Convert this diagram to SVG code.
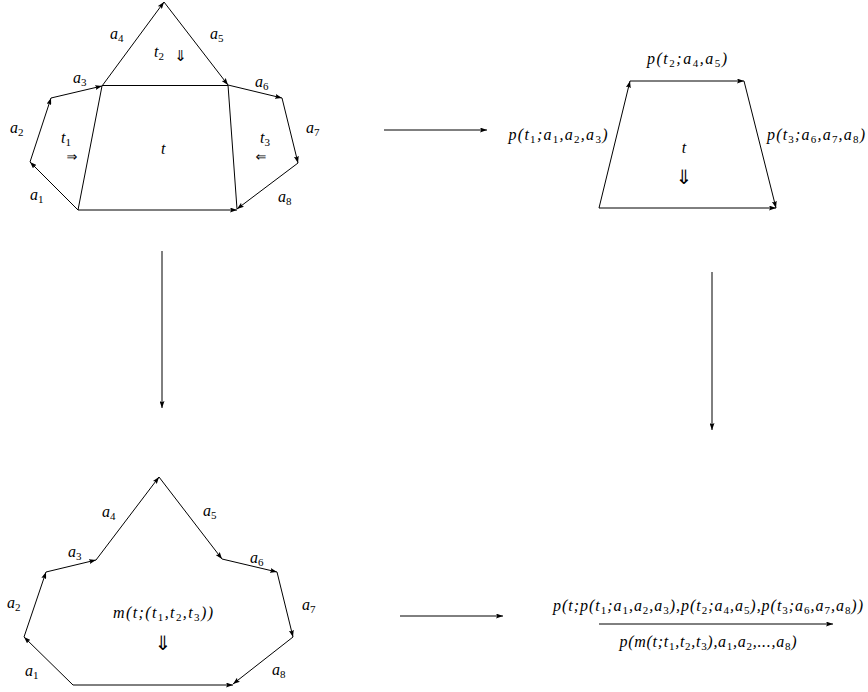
<svg xmlns="http://www.w3.org/2000/svg" width="868" height="692" viewBox="0 0 868 692">
<style>
.e{stroke:#000;stroke-width:1;fill:none}
.a{marker-end:url(#ah)}
.m{font-family:"Liberation Serif","DejaVu Serif",serif;font-size:16px;font-style:italic;fill:#000}
.s{font-size:11px;font-style:normal;baseline-shift:-3px}
.ar{font-family:"DejaVu Sans",sans-serif;font-size:15px;fill:#000;text-anchor:middle;text-rendering:geometricPrecision}
.sm{font-size:13px}
.big{font-size:20px}
.c{text-anchor:middle}
</style>
<defs>
<marker id="ah" viewBox="0 0 7 5" refX="7" refY="2.5" markerWidth="7" markerHeight="5" orient="auto" markerUnits="userSpaceOnUse">
<path d="M0,0 L7,2.5 L0,5 L1.3,2.5 z" fill="#000"/>
</marker>
</defs>
<rect width="868" height="692" fill="#fff"/>

<g id="top-left">
<line class="e a" x1="78" y1="210" x2="30" y2="162"/>
<line class="e a" x1="30" y1="162" x2="51" y2="98"/>
<line class="e a" x1="51" y1="98" x2="102" y2="86"/>
<line class="e a" x1="102" y1="86" x2="164" y2="2"/>
<line class="e a" x1="164" y1="2" x2="228" y2="85"/>
<line class="e a" x1="228" y1="85" x2="282" y2="98"/>
<line class="e a" x1="282" y1="98" x2="298" y2="163"/>
<line class="e a" x1="298" y1="163" x2="237" y2="209"/>
<line class="e a" x1="78" y1="210" x2="237" y2="210"/>
<line class="e" x1="78" y1="210" x2="102" y2="86"/>
<line class="e" x1="102" y1="85.5" x2="228" y2="85.5"/>
<line class="e" x1="228" y1="85" x2="237" y2="209"/>
<text class="m" x="110" y="39">a<tspan class="s">4</tspan></text>
<text class="m" x="210" y="39">a<tspan class="s">5</tspan></text>
<text class="m" x="154" y="57">t<tspan class="s">2</tspan></text>
<text class="ar" x="180.5" y="61">⇓</text>
<text class="m" x="73" y="83">a<tspan class="s">3</tspan></text>
<text class="m" x="255" y="87">a<tspan class="s">6</tspan></text>
<text class="m" x="10" y="133">a<tspan class="s">2</tspan></text>
<text class="m" x="306" y="133">a<tspan class="s">7</tspan></text>
<text class="m" x="61" y="143">t<tspan class="s">1</tspan></text>
<text class="ar sm" x="72" y="161">⇒</text>
<text class="m" x="161" y="154">t</text>
<text class="m" x="260" y="143">t<tspan class="s">3</tspan></text>
<text class="ar sm" x="261" y="161">⇐</text>
<text class="m" x="30" y="200">a<tspan class="s">1</tspan></text>
<text class="m" x="278" y="202">a<tspan class="s">8</tspan></text>
</g>

<g id="top-right">
<line class="e a" x1="599" y1="208" x2="630" y2="81"/>
<line class="e a" x1="630" y1="81" x2="744" y2="81"/>
<line class="e a" x1="744" y1="81" x2="776" y2="208"/>
<line class="e a" x1="599" y1="208" x2="776" y2="208"/>
<text class="m c" x="687" y="64" textLength="80" lengthAdjust="spacing">p(t<tspan class="s">2</tspan>;a<tspan class="s">4</tspan>,a<tspan class="s">5</tspan>)</text>
<text class="m c" x="558" y="140" textLength="99" lengthAdjust="spacing">p(t<tspan class="s">1</tspan>;a<tspan class="s">1</tspan>,a<tspan class="s">2</tspan>,a<tspan class="s">3</tspan>)</text>
<text class="m c" x="816" y="140" textLength="98" lengthAdjust="spacing">p(t<tspan class="s">3</tspan>;a<tspan class="s">6</tspan>,a<tspan class="s">7</tspan>,a<tspan class="s">8</tspan>)</text>
<text class="m c" x="684" y="153">t</text>
<text class="ar big" x="684" y="184">⇓</text>
</g>

<g id="bottom-left">
<line class="e a" x1="73" y1="685" x2="24" y2="637"/>
<line class="e a" x1="24" y1="637" x2="46" y2="572"/>
<line class="e a" x1="46" y1="572" x2="96" y2="560"/>
<line class="e a" x1="96" y1="560" x2="159" y2="477"/>
<line class="e a" x1="159" y1="477" x2="222" y2="559"/>
<line class="e a" x1="222" y1="559" x2="277" y2="572"/>
<line class="e a" x1="277" y1="572" x2="293" y2="637"/>
<line class="e a" x1="293" y1="637" x2="233" y2="684"/>
<line class="e a" x1="73" y1="685" x2="233" y2="685"/>
<text class="m" x="102" y="517">a<tspan class="s">4</tspan></text>
<text class="m" x="203" y="516">a<tspan class="s">5</tspan></text>
<text class="m" x="68" y="557">a<tspan class="s">3</tspan></text>
<text class="m" x="250" y="563">a<tspan class="s">6</tspan></text>
<text class="m" x="7" y="608">a<tspan class="s">2</tspan></text>
<text class="m" x="302" y="610">a<tspan class="s">7</tspan></text>
<text class="m c" x="163" y="618" textLength="100" lengthAdjust="spacing">m(t;(t<tspan class="s">1</tspan>,t<tspan class="s">2</tspan>,t<tspan class="s">3</tspan>))</text>
<text class="ar big" x="163" y="650">⇓</text>
<text class="m" x="25" y="676">a<tspan class="s">1</tspan></text>
<text class="m" x="272" y="675">a<tspan class="s">8</tspan></text>
</g>

<g id="bottom-right">
<line class="e a" x1="599" y1="624" x2="833" y2="624"/>
<text class="m c" x="708" y="611" textLength="310" lengthAdjust="spacing">p(t;p(t<tspan class="s">1</tspan>;a<tspan class="s">1</tspan>,a<tspan class="s">2</tspan>,a<tspan class="s">3</tspan>),p(t<tspan class="s">2</tspan>;a<tspan class="s">4</tspan>,a<tspan class="s">5</tspan>),p(t<tspan class="s">3</tspan>;a<tspan class="s">6</tspan>,a<tspan class="s">7</tspan>,a<tspan class="s">8</tspan>))</text>
<text class="m c" x="708" y="647" textLength="177" lengthAdjust="spacing">p(m(t;t<tspan class="s">1</tspan>,t<tspan class="s">2</tspan>,t<tspan class="s">3</tspan>),a<tspan class="s">1</tspan>,a<tspan class="s">2</tspan>,...,a<tspan class="s">8</tspan>)</text>
</g>

<g id="connectors">
<line class="e a" x1="384" y1="130" x2="487" y2="130"/>
<line class="e a" x1="162" y1="251" x2="162" y2="408"/>
<line class="e a" x1="712" y1="272" x2="712" y2="430"/>
<line class="e a" x1="400" y1="616" x2="503" y2="616"/>
</g>
</svg>
